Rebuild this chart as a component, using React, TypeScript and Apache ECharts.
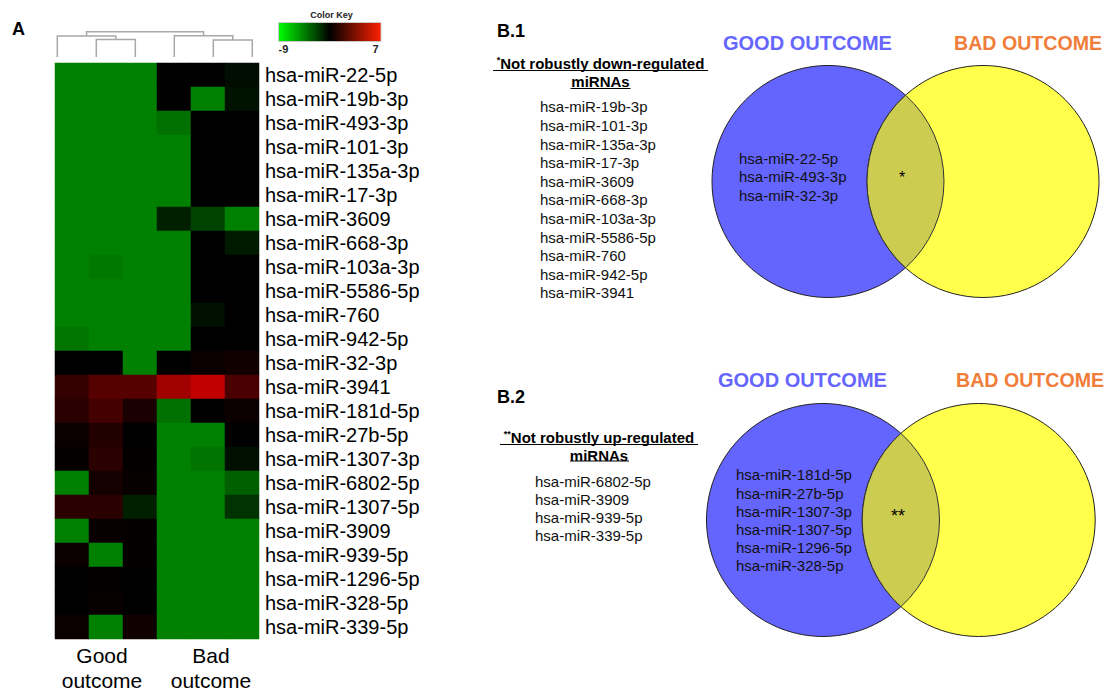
import React, { useEffect, useRef } from "react";
import * as echarts from "echarts";

// ---------- data ----------
const rowLabels = [
  "hsa-miR-22-5p", "hsa-miR-19b-3p", "hsa-miR-493-3p", "hsa-miR-101-3p",
  "hsa-miR-135a-3p", "hsa-miR-17-3p", "hsa-miR-3609", "hsa-miR-668-3p",
  "hsa-miR-103a-3p", "hsa-miR-5586-5p", "hsa-miR-760", "hsa-miR-942-5p",
  "hsa-miR-32-3p", "hsa-miR-3941", "hsa-miR-181d-5p", "hsa-miR-27b-5p",
  "hsa-miR-1307-3p", "hsa-miR-6802-5p", "hsa-miR-1307-5p", "hsa-miR-3909",
  "hsa-miR-939-5p", "hsa-miR-1296-5p", "hsa-miR-328-5p", "hsa-miR-339-5p",
];
const sampleColumns = ["Good 1", "Good 2", "Good 3", "Bad 1", "Bad 2", "Bad 3"];

const goodSample1 = [-9, -9, -9, -9, -9, -9, -9, -9, -9, -9, -9, -8.3, -1, 1.0, 0.6, -0.6, -0.8, -9, 0.6, -9, -0.6, -1, -1, -0.6];
const goodSample2 = [-9, -9, -9, -9, -9, -9, -9, -9, -8.5, -9, -9, -9, -1, 2.3, 1.6, 0.3, 0.6, -0.2, 0.6, -0.7, -9, -0.8, -0.7, -9];
const goodSample3 = [-9, -9, -9, -9, -9, -9, -9, -9, -9, -9, -9, -9, -9, 2.3, 0, -1, -0.8, -0.7, -3, -0.8, -0.8, -1, -1, -0.4];
const badSample1 = [-1, -1, -8, -9, -9, -9, -3, -9, -9, -9, -9, -9, -1, 5.2, -8, -9, -9, -9, -9, -9, -9, -9, -9, -9];
const badSample2 = [-1, -9, -1, -1, -1, -1, -5.2, -1, -1, -1, -2, -1, -0.6, 6.4, -1, -9, -8.2, -9, -9, -9, -9, -9, -9, -9];
const badSample3 = [-1.8, -2.2, -1, -1, -1, -1, -9, -2.6, -1, -1, -1, -1, -0.4, 1.85, -0.6, -1, -2, -7, -4.2, -9, -9, -9, -9, -9];

const colorKeyMin = -9;
const colorKeyMax = 7;

// dendrogram merges: [left node, right node, merge height]; nodes 0-5 are leaves, 6+ merges
const dendroMerges = [
  [1, 2, 17.5],
  [0, 6, 21],
  [4, 5, 17],
  [3, 8, 21.3],
  [7, 9, 25.3],
];

const groupLabels = ["Good\noutcome", "Bad\noutcome"];

const notDownRegulated = [
  "hsa-miR-19b-3p", "hsa-miR-101-3p", "hsa-miR-135a-3p", "hsa-miR-17-3p",
  "hsa-miR-3609", "hsa-miR-668-3p", "hsa-miR-103a-3p", "hsa-miR-5586-5p",
  "hsa-miR-760", "hsa-miR-942-5p", "hsa-miR-3941",
];
const notUpRegulated = ["hsa-miR-6802-5p", "hsa-miR-3909", "hsa-miR-939-5p", "hsa-miR-339-5p"];
const vennDownGood = ["hsa-miR-22-5p", "hsa-miR-493-3p", "hsa-miR-32-3p"];
const vennUpGood = [
  "hsa-miR-181d-5p", "hsa-miR-27b-5p", "hsa-miR-1307-3p",
  "hsa-miR-1307-5p", "hsa-miR-1296-5p", "hsa-miR-328-5p",
];

// ---------- helpers ----------
const FONT = "'Liberation Sans', Arial, Helvetica, sans-serif";

function txt(
  text: string,
  x: number,
  y: number,
  o: { size?: number; weight?: string; color?: string; align?: string; va?: string; lh?: number; rich?: any } = {}
) {
  const style: any = {
    text,
    fill: o.color || "#000",
    fontSize: o.size || 15,
    fontWeight: o.weight || "normal",
    fontFamily: FONT,
    align: o.align || "left",
    textAlign: o.align || "left",
    verticalAlign: o.va || "middle",
    textVerticalAlign: o.va || "middle",
  };
  if (o.lh) style.lineHeight = o.lh;
  if (o.rich) style.rich = o.rich;
  return { type: "text", x, y, silent: true, style };
}

function line(x1: number, y1: number, x2: number, y2: number, color = "#000", w = 1) {
  return { type: "line", silent: true, shape: { x1, y1, x2, y2 }, style: { stroke: color, lineWidth: w } };
}

function lensPath(d: number, r: number) {
  const a = d / 2;
  const h = Math.sqrt(r * r - a * a);
  return `M0 ${-h} A${r} ${r} 0 0 1 0 ${h} A${r} ${r} 0 0 1 0 ${-h} Z`;
}

function venn(lensName: string, cxGood: number, cxBad: number, cy: number, r: number) {
  const d = cxBad - cxGood;
  echarts.graphic.registerShape(lensName, echarts.graphic.extendPath(lensPath(d, r), {}) as any);
  return [
    { type: "circle", silent: true, shape: { cx: cxGood, cy, r }, style: { fill: "#6464ff", stroke: "#222", lineWidth: 1 } },
    { type: "circle", silent: true, shape: { cx: cxBad, cy, r }, style: { fill: "#ffff4c", stroke: "#222", lineWidth: 1 } },
    { type: lensName, silent: true, x: (cxGood + cxBad) / 2, y: cy, style: { fill: "#cccc50", stroke: "#333", lineWidth: 1 } },
  ];
}

export default function App() {
  const ref = useRef<HTMLDivElement>(null);

  useEffect(() => {
    if (!ref.current) return;
    const chart = echarts.init(ref.current, undefined, { renderer: "svg" });

    const columns = [goodSample1, goodSample2, goodSample3, badSample1, badSample2, badSample3];
    const heatData: number[][] = [];
    columns.forEach((col, ci) => col.forEach((v, ri) => heatData.push([ci, ri, v])));

    // dendrogram
    const leafLeft = 57.3;
    const leafStep = 39;
    const baseY = 57;
    const nodes: { x: number; y: number }[] = sampleColumns.map((_, i) => ({ x: leafLeft + i * leafStep, y: baseY }));
    const dendro: any[] = [];
    dendroMerges.forEach(([l, r, h]) => {
      const L = nodes[l];
      const R = nodes[r];
      const ym = baseY - h;
      dendro.push({
        type: "polyline",
        silent: true,
        shape: { points: [[L.x, L.y], [L.x, ym], [R.x, ym], [R.x, R.y]] },
        style: { stroke: "#a8a8a8", lineWidth: 1.5, fill: null },
      });
      nodes.push({ x: (L.x + R.x) / 2, y: ym });
    });

    const graphics: any[] = [
      txt("A", 12, 29, { size: 18, weight: "bold" }),
      ...dendro,
      // colour key
      txt("Color Key", 331.5, 14.5, { size: 9, weight: "bold", align: "center", color: "#222" }),
      {
        type: "rect",
        silent: true,
        shape: { x: 278.5, y: 22.5, width: 102.5, height: 19 },
        style: {
          stroke: "#c8c8c8",
          lineWidth: 1,
          fill: {
            type: "linear", x: 0, y: 0, x2: 1, y2: 0,
            colorStops: [
              { offset: 0, color: "#00ff00" },
              { offset: 0.5, color: "#000000" },
              { offset: 1, color: "#ff2000" },
            ],
          },
        },
      },
      txt(String(colorKeyMin), 278.5, 49, { size: 11, weight: "bold", color: "#222" }),
      txt(String(colorKeyMax), 378.5, 49, { size: 11, weight: "bold", color: "#222", align: "right" }),
      // group labels
      txt(groupLabels[0], 102, 667.5, { size: 21, align: "center", lh: 25 }),
      txt(groupLabels[1], 211, 667.5, { size: 21, align: "center", lh: 25 }),

      // ---- B.1 ----
      txt("B.1", 497, 31, { size: 18, weight: "bold" }),
      txt("{s|*}Not robustly down-regulated", 600.5, 63, {
        size: 15, weight: "bold", align: "center",
        rich: { s: { fontSize: 9, fontWeight: "bold", fontFamily: FONT, fill: "#000", verticalAlign: "top", padding: [0, 0, 6, 0] } },
      }),
      line(493, 70.5, 708, 70.5, "#000", 1.2),
      txt("miRNAs", 600.5, 81.5, { size: 15, weight: "bold", align: "center" }),
      line(570.5, 88.5, 630.5, 88.5, "#000", 1.2),
      txt(notDownRegulated.join("\n"), 540, 107 - 9.3, { size: 15, va: "top", lh: 18.6, color: "#111" }),
      txt("GOOD OUTCOME", 723, 42.5, { size: 20, weight: "bold", color: "#6666ff" }),
      txt("BAD OUTCOME", 954, 42.5, { size: 19.6, weight: "bold", color: "#f07d3a" }),
      ...venn("lensB1", 828, 983, 181.5, 116),
      txt(vennDownGood.join("\n"), 739, 158 - 9.25, { size: 15, va: "top", lh: 18.5, color: "#111" }),
      txt("*", 902, 177, { size: 16, align: "center", color: "#000" }),

      // ---- B.2 ----
      txt("B.2", 497, 397, { size: 18, weight: "bold" }),
      txt("{s|**}Not robustly up-regulated", 599, 437, {
        size: 15, weight: "bold", align: "center",
        rich: { s: { fontSize: 9, fontWeight: "bold", fontFamily: FONT, fill: "#000", verticalAlign: "top", padding: [0, 0, 6, 0] } },
      }),
      line(500, 444.5, 698, 444.5, "#000", 1.2),
      txt("miRNAs", 599, 455, { size: 15, weight: "bold", align: "center" }),
      line(570, 461, 629, 461, "#000", 1.2),
      txt(notUpRegulated.join("\n"), 535, 481.7 - 8.9, { size: 15, va: "top", lh: 17.8, color: "#111" }),
      txt("GOOD OUTCOME", 718, 380, { size: 20, weight: "bold", color: "#6666ff" }),
      txt("BAD OUTCOME", 956, 380, { size: 19.6, weight: "bold", color: "#f07d3a" }),
      ...venn("lensB2", 823, 978.7, 520, 116.5),
      txt(vennUpGood.join("\n"), 736, 475 - 9.1, { size: 15, va: "top", lh: 18.2, color: "#111" }),
      txt("**", 898, 516, { size: 18, align: "center", color: "#000" }),
    ];

    chart.setOption({
      animation: false,
      backgroundColor: "#ffffff",
      grid: { left: 55, top: 63, width: 204, height: 576 },
      xAxis: { type: "category", data: sampleColumns, show: false },
      yAxis: {
        type: "category",
        data: rowLabels,
        inverse: true,
        position: "right",
        axisLine: { show: false },
        axisTick: { show: false },
        splitLine: { show: false },
        axisLabel: { interval: 0, fontSize: 20, color: "#000", fontFamily: FONT, margin: 6 },
      },
      visualMap: {
        type: "continuous",
        show: false,
        min: colorKeyMin,
        max: colorKeyMax,
        dimension: 2,
        seriesIndex: 0,
        inRange: { color: ["#008000", "#000000", "#d00000"] },
      },
      series: [
        {
          type: "heatmap",
          data: heatData,
          itemStyle: { borderWidth: 0 },
          emphasis: { disabled: true },
        },
      ],
      graphic: graphics,
    });

    return () => chart.dispose();
  }, []);

  return (
    <div
      ref={ref}
      style={{ position: "fixed", left: 0, top: 0, width: 1107, height: 691, background: "#fff" }}
    />
  );
}
